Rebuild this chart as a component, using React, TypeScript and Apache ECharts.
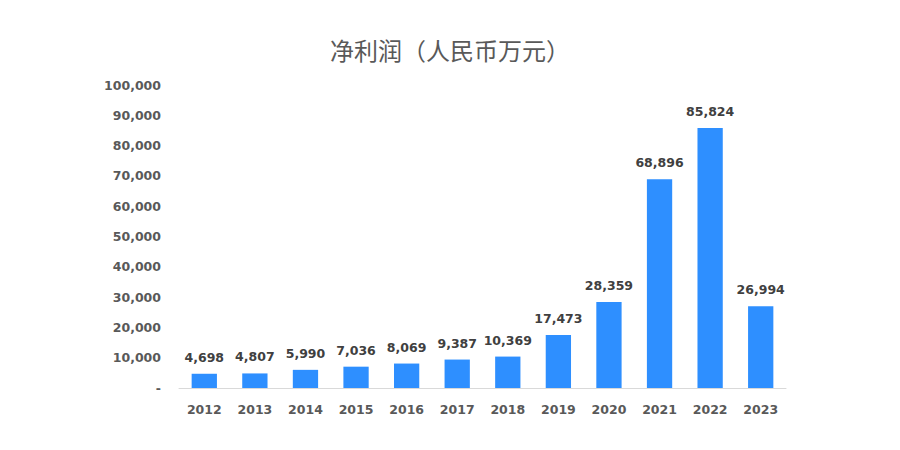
import React, { useEffect, useRef } from "react";
import * as echarts from "echarts";

const titleText = "净利润（人民币万元）";
const years = ["2012", "2013", "2014", "2015", "2016", "2017", "2018", "2019", "2020", "2021", "2022", "2023"];
const profits = [4698, 4807, 5990, 7036, 8069, 9387, 10369, 17473, 28359, 68896, 85824, 26994];

const fmt = (v: number) => (v === 0 ? "-" : v.toLocaleString("en-US"));

export default function App() {
  const ref = useRef<HTMLDivElement>(null);
  useEffect(() => {
    if (!ref.current) return;
    const chart = echarts.init(ref.current, undefined, { renderer: "svg" });
    chart.setOption({
      animation: false,
      backgroundColor: "#ffffff",
      title: {
        text: titleText,
        left: "center",
        top: 32,
        textStyle: {
          fontFamily: "Noto Sans CJK SC",
          fontSize: 24,
          fontWeight: "normal",
          color: "#595959",
        },
      },
      grid: { left: 179, right: 114, top: 85, bottom: 62 },
      xAxis: {
        type: "category",
        data: years,
        axisLine: { lineStyle: { color: "#d9d9d9", width: 1 } },
        axisTick: { show: false },
        axisLabel: {
          fontFamily: "DejaVu Sans",
          fontWeight: "bold",
          fontSize: 12.5,
          color: "#595959",
          margin: 15,
        },
      },
      yAxis: {
        type: "value",
        min: 0,
        max: 100000,
        interval: 10000,
        axisLine: { show: false },
        axisTick: { show: false },
        splitLine: { show: false },
        axisLabel: {
          formatter: (v: number) => fmt(v),
          fontFamily: "DejaVu Sans",
          fontWeight: "bold",
          fontSize: 12.5,
          color: "#595959",
          margin: 18,
        },
      },
      series: [
        {
          type: "bar",
          data: profits,
          barWidth: "50%",
          itemStyle: { color: "#2E8FFF" },
          label: {
            show: true,
            position: "top",
            distance: 10,
            formatter: (p: any) => fmt(p.value),
            fontFamily: "DejaVu Sans",
            fontWeight: "bold",
            fontSize: 12.5,
            color: "#404040",
          },
        },
      ],
    });
    return () => chart.dispose();
  }, []);
  return (
    <div
      ref={ref}
      style={{ position: "absolute", left: 0, top: 0, width: 900, height: 450 }}
    />
  );
}
